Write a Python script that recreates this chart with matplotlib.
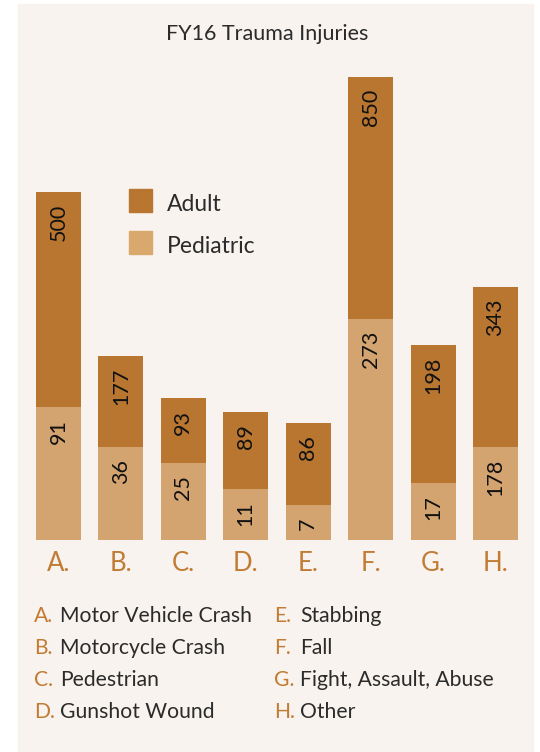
import matplotlib
matplotlib.use('Agg')
from matplotlib import pyplot as plt
from matplotlib.patches import Rectangle
import numpy as np

W, H = 540, 752

letters = ["A.", "B.", "C.", "D.", "E.", "F.", "G.", "H."]
injuries = ["Motor Vehicle Crash", "Motorcycle Crash", "Pedestrian",
            "Gunshot Wound", "Stabbing", "Fall",
            "Fight, Assault, Abuse", "Other"]
adult = [500, 177, 93, 89, 86, 850, 198, 343]
pediatric = [91, 36, 25, 11, 7, 273, 17, 178]

# the original graphic is not drawn to scale, so segment lengths
# are read off the picture separately from the labels
adult_drawn = [215, 91, 65, 77, 82, 242, 138, 160]
pediatric_drawn = [133, 93, 77, 51, 35, 221, 57, 93]

ADULT = "#b87630"
PED = "#d3a46f"
ORANGE = "#c17b32"
TEXT = "#2b2b2b"
BG = "#f8f3ee"
FONT = ['Lato', 'DejaVu Sans']


def fx(px):
    return px / W


def fy(py):
    return 1 - py / H


def main():
    plt.rcParams['font.family'] = FONT
    fig = plt.figure(figsize=(W / 100, H / 100), dpi=100, facecolor='white')
    fig.patches.append(Rectangle((fx(18), 0), fx(533) - fx(18), fy(4),
                                 transform=fig.transFigure, color=BG,
                                 zorder=-10))

    # axes laid out so one category step = 62.4 px and one y unit = 1 px
    ax = fig.add_axes([fx(27.3), fy(540), fx(526.7) - fx(27.3),
                       fy(60) - fy(540)])
    ax.set_xlim(-0.5, 7.5)
    ax.set_ylim(0, 480)
    ax.axis('off')

    x = np.arange(len(letters))
    ax.bar(x, pediatric_drawn, width=0.72, color=PED)
    ax.bar(x, adult_drawn, width=0.72, bottom=pediatric_drawn, color=ADULT)

    for i in x:
        ped_top = pediatric_drawn[i]
        top = ped_top + adult_drawn[i]
        ax.text(i, ped_top - 12, str(pediatric[i]), rotation=90,
                ha='center', va='top', fontsize=15.5, color='#111111')
        ax.text(i, top - 12, str(adult[i]), rotation=90,
                ha='center', va='top', fontsize=15.5, color='#111111')
        ax.text(i, -31, letters[i], ha='center', va='baseline',
                fontsize=18.5, color=ORANGE)

    fig.text(fx(267), fy(39.5), "FY16 Trauma Injuries", ha='center',
             va='baseline', fontsize=15.5, color=TEXT)

    # in-chart legend
    for j, (name, col) in enumerate([("Adult", ADULT), ("Pediatric", "#d9a86c")]):
        top = 189 + j * 42
        fig.patches.append(Rectangle((fx(129), fy(top + 23)), fx(23), 23 / H,
                                     transform=fig.transFigure, color=col))
        fig.text(fx(167), fy(top + 22), name, ha='left', va='baseline',
                 fontsize=16.5, color=TEXT)

    # key below the chart
    for k in range(len(letters)):
        col = k // 4
        row = k % 4
        base = 621.5 + row * 32.2
        lx = 34 if col == 0 else 274
        fig.text(fx(lx), fy(base), letters[k], ha='left', va='baseline',
                 fontsize=15.2, color=ORANGE)
        fig.text(fx(lx + 26), fy(base), injuries[k], ha='left',
                 va='baseline', fontsize=15.2, color=TEXT)

    fig.savefig('out.png', dpi=100, facecolor='white')


if __name__ == "__main__":
    main()
